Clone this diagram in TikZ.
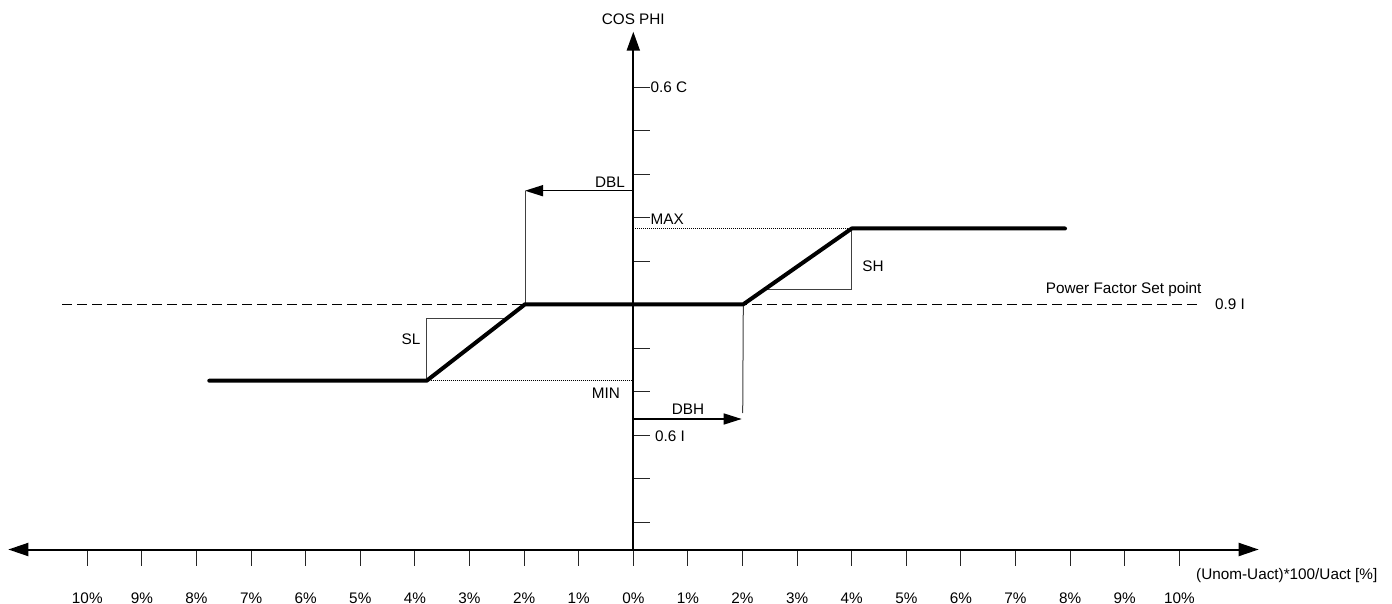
\documentclass[tikz,border=0pt]{standalone}
\usepackage{fontspec}
\setmainfont{Liberation Sans}
\usetikzlibrary{arrows.meta}
\begin{document}
\begin{tikzpicture}[x=1pt,y=-1pt,
  lbl/.style={inner sep=0pt, text height=11pt, text depth=0pt, font=\fontsize{15.3}{18}\selectfont},
  axisline/.style={line width=2pt},
  tickline/.style={line width=1pt, black!85},
  thinline/.style={line width=1pt, black!75},
  curveline/.style={line width=4pt, line cap=round, line join=round},
  axistip/.style={-{Triangle[length=19pt,width=13pt]}},
  dbtip/.style={line width=1.5pt, -{Triangle[length=18pt,width=11pt]}},
  setline/.style={line width=1.3pt, dash pattern=on 10pt off 5pt},
  limline/.style={line width=1pt, dash pattern=on 1pt off 1pt}]
\useasboundingbox (0,0) rectangle (1392,604);
% key coordinates
\coordinate (O) at (633.3,549.5);
\coordinate (ytop) at (633.3,31.7);
\coordinate (xleft) at (8.3,549.5);
\coordinate (xright) at (1258.7,549.5);
\coordinate (p1) at (209.3,380.7);
\coordinate (p2) at (426.7,380.7);
\coordinate (p3) at (525,304.3);
\coordinate (p4) at (743.3,304.3);
\coordinate (p5) at (851.7,228.5);
\coordinate (p6) at (1065,228.5);
\coordinate (axmax) at (633.3,228.5);
\coordinate (axmin) at (633.3,380.7);
\coordinate (setL) at (62,304.3);
\coordinate (setR) at (1200,304.3);
\coordinate (slTop) at (426.7,318.3);
\coordinate (slEnd) at (505.5,318.3);
\coordinate (shBot) at (851.7,289.3);
\coordinate (shEnd) at (765.5,289.3);
\coordinate (dblTop) at (525,190.7);
\coordinate (dblStart) at (633.3,190.7);
\coordinate (dbhBot) at (742.7,413);
\coordinate (dbhStart) at (633.3,419);
\coordinate (dbhEnd) at (741.7,419);
% x-axis ticks and labels
\foreach \k in {-10,...,10}{
  \pgfmathsetmacro{\xx}{633.3+54.6*\k}
  \pgfmathtruncatemacro{\ak}{abs(\k)}
  \draw[tickline] (\xx,549.5) -- (\xx,565.7);
  \node[lbl] (xl\k) at (\xx,598) {\ak\%};
}
% y-axis ticks
\foreach \k in {0,...,10}{
  \pgfmathsetmacro{\yy}{87.3+43.5*\k}
  \draw[tickline] (633.3,\yy) -- (650,\yy);
}
% set point dashed line
\draw[setline] (setL) -- (setR);
% limits
\draw[limline] (axmax) -- (p5);
\draw[limline] (p2) -- (axmin);
% slope boxes
\draw[thinline] (p2) -- (slTop) -- (slEnd);
\draw[thinline] (p5) -- (shBot) -- (shEnd);
% dead band markers
\draw[thinline] (p3) -- (dblTop);
\draw[dbtip] (dblStart) -- (dblTop);
\draw[thinline] (p4) -- (dbhBot);
\draw[dbtip] (dbhStart) -- (dbhEnd);
% axes
\draw[axisline, axistip] (O) -- (ytop);
\draw[axisline, {Triangle[length=20pt,width=13pt]}-{Triangle[length=20pt,width=13pt]}] (xleft) -- (xright);
% characteristic
\draw[curveline] (p1) -- (p2) -- (p3) -- (p4) -- (p5) -- (p6);
% labels
\node[lbl] (cosphi) at (633.3,19) {COS PHI};
\node[lbl, anchor=west] (l06c) at (650.5,87.3) {0.6 C};
\node[lbl, anchor=west] (lmax) at (650.5,219) {MAX};
\node[lbl, anchor=east] (lmin) at (620,392.7) {MIN};
\node[lbl, anchor=west] (l06i) at (655,436) {0.6 I};
\node[lbl, anchor=east] (ldbl) at (625,181.7) {DBL};
\node[lbl] (ldbh) at (688,408.7) {DBH};
\node[lbl] (lsh) at (873,266) {SH};
\node[lbl] (lsl) at (411,339) {SL};
\node[lbl] (lpf) at (1123.7,288.3) {Power Factor Set point};
\node[lbl, anchor=west] (l09i) at (1215,304.3) {0.9 I};
\node[lbl, anchor=west] (lxax) at (1196,574) {(Unom-Uact)*100/Uact [\%]};
\end{tikzpicture}
\end{document}
